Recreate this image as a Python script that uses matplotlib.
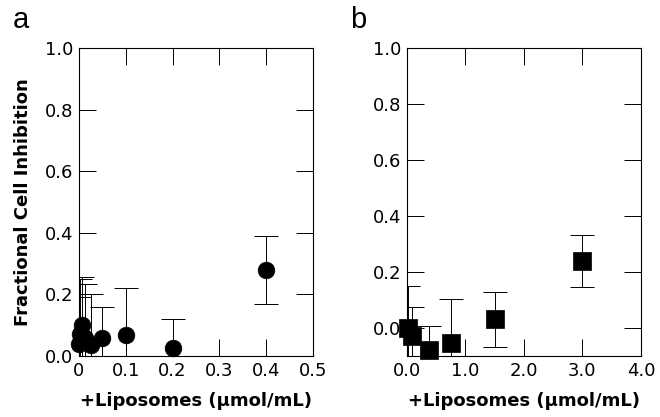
import numpy as np
import matplotlib
matplotlib.use("Agg")
import matplotlib.pyplot as plt

plt.rcParams['font.family'] = ['DejaVu Sans']

# panel a: low liposome range
lipo_a = [0.001, 0.003, 0.006, 0.0125, 0.025, 0.05, 0.1, 0.2, 0.4]
inhib_a = [0.04, 0.07, 0.10, 0.06, 0.035, 0.059, 0.067, 0.025, 0.28]
err_a = [0.15, 0.18, 0.155, 0.175, 0.165, 0.10, 0.153, 0.094, 0.11]

# panel b: higher liposome range
lipo_b = [0.02, 0.09, 0.375, 0.75, 1.5, 3.0]
inhib_b = [0.0, -0.03, -0.078, -0.055, 0.031, 0.24]
err_b = [0.15, 0.105, 0.085, 0.158, 0.098, 0.093]

xt_a = [0, 0.1, 0.2, 0.3, 0.4, 0.5]
xt_a_lbl = ['0', '0.1', '0.2', '0.3', '0.4', '0.5']
xt_b = [0, 1, 2, 3, 4]
xt_b_lbl = ['0.0', '1.0', '2.0', '3.0', '4.0']
yt = [0.0, 0.2, 0.4, 0.6, 0.8, 1.0]
yt_lbl = ['0.0', '0.2', '0.4', '0.6', '0.8', '1.0']

fig = plt.figure(figsize=(6.6, 4.17), dpi=100)
ax1 = fig.add_axes([79/660, 1-356/417, (313-79)/660, (356-48)/417])
ax2 = fig.add_axes([406.7/660, 1-356/417, (641-406.7)/660, (356-48)/417])

# error bars stay inside the axes, markers may spill over the spines
ax1.errorbar(lipo_a, inhib_a, yerr=err_a, fmt='none', ecolor='black',
             elinewidth=0.7, capsize=8.5, capthick=0.7)
ax1.plot(lipo_a, inhib_a, 'o', color='black', ms=12, mew=0.5, clip_on=False, zorder=3)
ax2.errorbar(lipo_b, inhib_b, yerr=err_b, fmt='none', ecolor='black',
             elinewidth=0.7, capsize=8.5, capthick=0.7)
ax2.plot(lipo_b, inhib_b, 's', color='black', ms=12.5, mew=0.5, clip_on=False, zorder=3)

ax1.set_xlim(0, 0.5)
ax1.set_ylim(0, 1.0)
ax2.set_xlim(0, 4.0)
ax2.set_ylim(-0.1, 1.0)

ax1.set_xticks(xt_a, xt_a_lbl)
ax2.set_xticks(xt_b, xt_b_lbl)
for ax in (ax1, ax2):
    ax.set_yticks(yt, yt_lbl)
    ax.tick_params(direction='in', length=12, width=0.7, top=True, right=True,
                   labelsize=13, pad=4)
    for s in ax.spines.values():
        s.set_linewidth(0.8)
    ax.set_xlabel('+Liposomes (µmol/mL)', fontsize=13, fontweight='bold', labelpad=9)

ax1.set_ylabel('Fractional Cell Inhibition', fontsize=13, fontweight='bold', labelpad=9)

fig.text(13/660, 1-28/417, 'a', fontsize=21, family='Liberation Sans')
fig.text(350/660, 1-28/417, 'b', fontsize=21, family='Liberation Sans')

fig.savefig('out.png', dpi=100)
